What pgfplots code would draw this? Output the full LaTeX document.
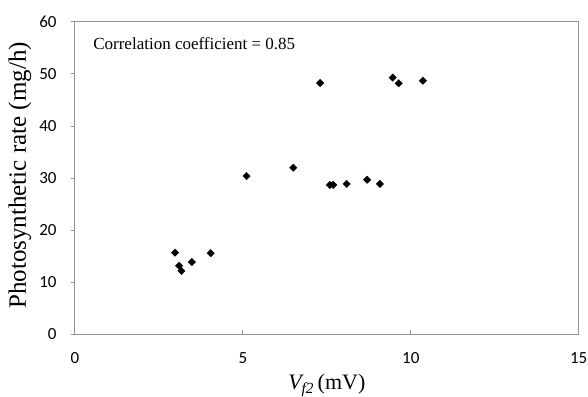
\documentclass[border=0pt]{standalone}
\usepackage{fontspec}
\setmainfont{Liberation Serif}
\newfontfamily\calibri{Carlito}
\usepackage{pgfplots}
\pgfplotsset{compat=1.18}
\definecolor{axisgray}{RGB}{145,145,145}
\begin{document}
\begin{tikzpicture}
\useasboundingbox (-75pt,-62.3pt) rectangle (513pt,334.5pt);
\begin{axis}[
  at={(0,0)}, anchor=south west,
  scale only axis,
  width=503.7pt, height=312.7pt,
  xmin=0, xmax=15, ymin=0, ymax=60,
  xtick={0,5,10,15}, ytick={0,10,...,60},
  axis line style={axisgray, line width=1pt},
  tick style={axisgray, line width=1pt},
  major tick length=4.5pt,
  xtick pos=bottom, ytick pos=left,
  xtick align=inside, ytick align=outside,
  /pgf/number format/assume math mode=true,
  tick label style={font=\calibri\fontsize{17}{20}\selectfont, black, inner sep=0pt},
  xticklabel style={anchor=north},
  yticklabel style={anchor=east},
  xticklabel shift=18pt,
  yticklabel shift=13.8pt,
  xlabel={\textit{V}$_{\!\mathit{f2}}$\,(mV)},
  ylabel={Photosynthetic rate (mg/h)},
  xlabel style={at={(rel axis cs:0.5,0)}, anchor=center, yshift=-51.3pt, font=\fontsize{22}{26}\selectfont},
  ylabel style={at={([xshift=-55pt]rel axis cs:0,0.509)}, anchor=center, font=\fontsize{25}{29}\selectfont},
  clip=false,
]
\draw[axisgray, line width=1pt] (rel axis cs:0,0) rectangle (rel axis cs:1,1);
\addplot[only marks, mark=square*, mark size=2.6pt, mark options={rotate=45, fill=black, draw=black}] coordinates {
(2.98,15.7) (3.10,13.2) (3.17,12.2) (3.48,13.9) (4.04,15.6)
(5.11,30.4) (6.50,32.0) (7.30,48.25) (7.59,28.7) (7.69,28.7)
(8.09,28.9) (8.70,29.7) (9.08,28.9) (9.46,49.3) (9.64,48.2) (10.36,48.7)
};
\node[anchor=base west, inner sep=0pt, font=\fontsize{17}{20}\selectfont] at (axis cs:0.54,54.6) {Correlation coefficient = 0.85};
\end{axis}
\end{tikzpicture}
\end{document}
